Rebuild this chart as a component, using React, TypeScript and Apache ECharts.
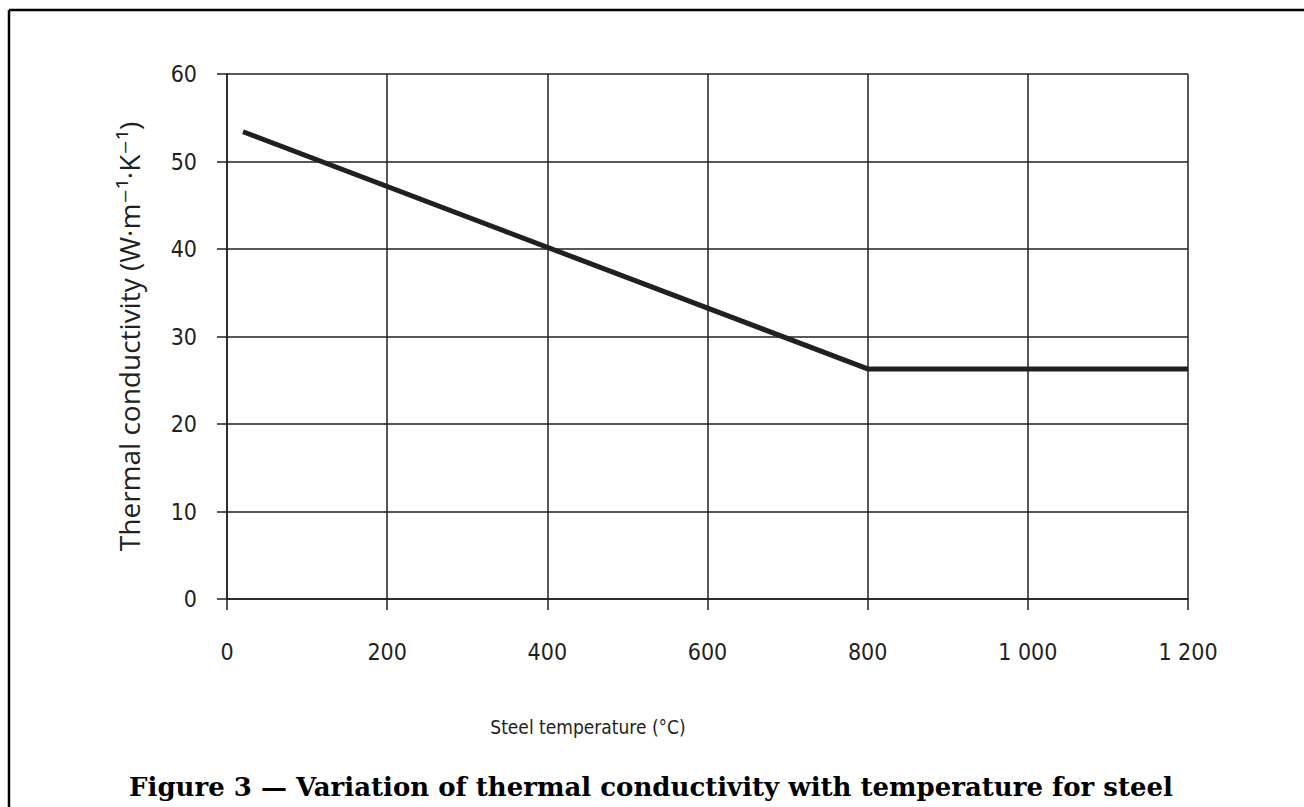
import React, { useEffect, useRef } from "react";
import * as echarts from "echarts";

const temperatures = [20, 800, 1200];
const conductivity = [53.4, 26.3, 26.3];
const xTicks = [0, 200, 400, 600, 800, 1000, 1200];
const yTicks = [0, 10, 20, 30, 40, 50, 60];

const xAxisTitle = "Steel temperature (°C)";
const yAxisTitle = "Thermal conductivity (W·m⁻¹·K⁻¹)";
const figureTitle = "Figure 3 — Variation of thermal conductivity with temperature for steel";

const INK = "#231f20";
const LABEL_FONT = "'DejaVu Sans Condensed', 'Roboto', sans-serif";

function fmt(v: number): string {
  return String(v).replace(/\B(?=(\d{3})+(?!\d))/g, " ");
}

export default function App() {
  const ref = useRef<HTMLDivElement>(null);
  useEffect(() => {
    if (!ref.current) return;
    const chart = echarts.init(ref.current, null, { renderer: "svg" });
    chart.setOption({
      animation: false,
      backgroundColor: "#ffffff",
      grid: { left: 227, right: 116, top: 74, bottom: 208, containLabel: false },
      xAxis: {
        type: "value",
        min: xTicks[0],
        max: xTicks[xTicks.length - 1],
        interval: 200,
        axisLine: { show: true, lineStyle: { color: INK, width: 1.5 } },
        axisTick: { show: true, length: 11, lineStyle: { color: INK, width: 1.5 } },
        splitLine: { show: true, lineStyle: { color: INK, width: 1.5 } },
        axisLabel: {
          margin: 41,
          color: INK,
          fontSize: 23,
          fontFamily: LABEL_FONT,
          formatter: (v: number) => fmt(v),
        },
      },
      yAxis: {
        type: "value",
        min: yTicks[0],
        max: yTicks[yTicks.length - 1],
        interval: 10,
        name: yAxisTitle,
        nameLocation: "middle",
        nameRotate: 90,
        nameGap: 84,
        nameTextStyle: { color: INK, fontSize: 28, fontFamily: "'Open Sans', 'DejaVu Sans', sans-serif" },
        axisLine: { show: true, lineStyle: { color: INK, width: 1.5 } },
        axisTick: { show: true, length: 10, lineStyle: { color: INK, width: 1.5 } },
        splitLine: { show: true, lineStyle: { color: INK, width: 1.5 } },
        axisLabel: {
          margin: 30,
          color: INK,
          fontSize: 23,
          fontFamily: LABEL_FONT,
        },
      },
      graphic: [
        { type: "line", shape: { x1: 9, y1: 10, x2: 1304, y2: 10 }, style: { stroke: "#000", lineWidth: 2.5 } },
        { type: "line", shape: { x1: 9, y1: 10, x2: 9, y2: 807 }, style: { stroke: "#000", lineWidth: 2.5 } },
        {
          type: "text",
          x: 588,
          y: 727,
          style: {
            text: xAxisTitle,
            fill: INK,
            font: `19px ${LABEL_FONT}`,
            textAlign: "center",
            textVerticalAlign: "middle",
          },
        },
        {
          type: "text",
          x: 651,
          y: 787,
          style: {
            text: figureTitle,
            fill: "#000",
            font: `bold 26px 'DejaVu Serif', serif`,
            textAlign: "center",
            textVerticalAlign: "middle",
          },
        },
      ],
      series: [
        {
          type: "line",
          data: temperatures.map((t, i) => [t, conductivity[i]]),
          symbol: "none",
          lineStyle: { color: INK, width: 5 },
        },
      ],
    });
    return () => chart.dispose();
  }, []);
  return (
    <div
      ref={ref}
      style={{ position: "fixed", left: 0, top: 0, width: 1304, height: 807, background: "#fff" }}
    />
  );
}
